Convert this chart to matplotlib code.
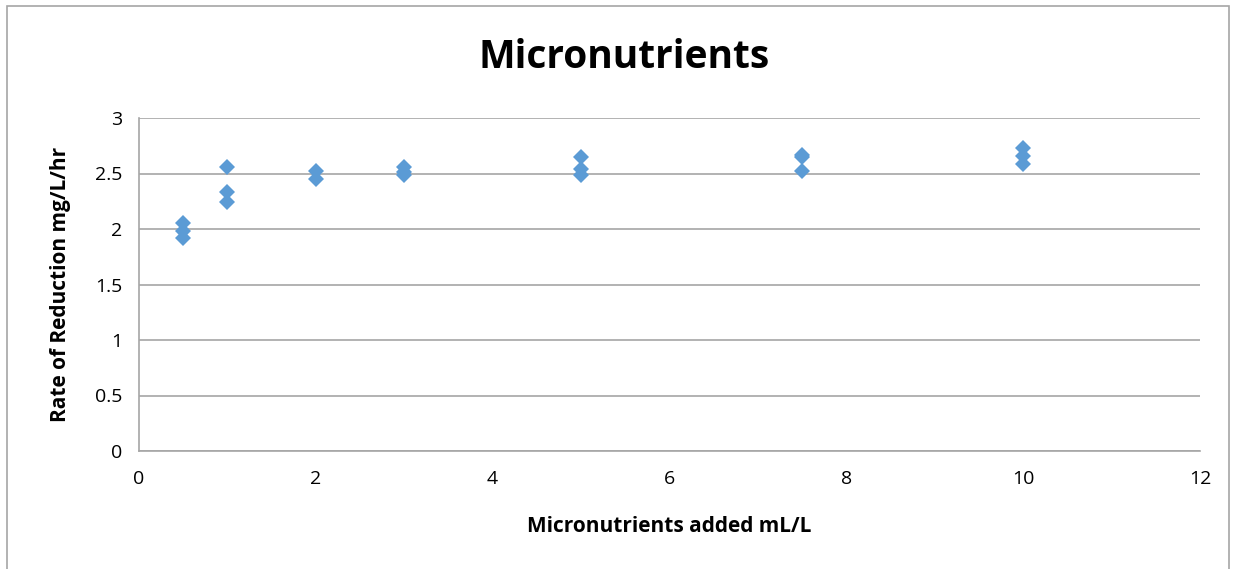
import matplotlib.pyplot as plt

# Micronutrients added (mL/L) and measured rate of reduction (mg/L/hr)
dose = [0.5, 0.5, 0.5, 1, 1, 1, 2, 2, 3, 3, 3, 5, 5, 5, 7.5, 7.5, 7.5, 10, 10, 10]
rate = [2.05, 1.98, 1.92, 2.56, 2.33, 2.24, 2.52, 2.45, 2.56, 2.51, 2.49,
        2.65, 2.54, 2.49, 2.67, 2.65, 2.52, 2.73, 2.66, 2.59]

x_ticks = [0, 2, 4, 6, 8, 10, 12]
y_ticks = [0, 0.5, 1, 1.5, 2, 2.5, 3]
y_labels = ['0', '0.5', '1', '1.5', '2', '2.5', '3']

plt.rcParams['font.family'] = ['Open Sans', 'DejaVu Sans']

fig = plt.figure(figsize=(12.34, 5.69), dpi=100)
ax = fig.add_axes([139/1234, 1 - 451/569, (1200-139)/1234, (451-118)/569])

ax.plot(dose, rate, 'D', color='#5B9BD5', markersize=8.5, markeredgewidth=0, zorder=3)

ax.set_xlim(0, 12)
ax.set_ylim(0, 3)
ax.set_xticks(x_ticks)
ax.set_yticks(y_ticks)
ax.set_yticklabels(y_labels)
ax.tick_params(axis='both', labelsize=14, length=0)
ax.tick_params(axis='x', pad=14)
ax.tick_params(axis='y', pad=12)
ax.yaxis.grid(True, color='#A6A6A6', linewidth=1.2)
ax.set_axisbelow(True)
for s in ['top', 'right']:
    ax.spines[s].set_visible(False)
for s in ['left', 'bottom']:
    ax.spines[s].set_color('#A6A6A6')
    ax.spines[s].set_linewidth(1.2)

ax.set_xlabel('Micronutrients added mL/L', fontsize=15, fontweight='bold', labelpad=20)
ax.set_ylabel('Rate of Reduction mg/L/hr', fontsize=15, fontweight='bold', labelpad=17)
fig.text(624/1234, 1 - 58/569, 'Micronutrients', fontsize=28, fontweight='bold',
         ha='center', va='center')

# chart frame
fig.patches.append(plt.Rectangle((7/1234, -0.02), 1222/1234, 1 - 6/569 + 0.02,
                                 transform=fig.transFigure, fill=False,
                                 edgecolor='#A6A6A6', linewidth=1.2))

fig.savefig('out.png', dpi=100)
